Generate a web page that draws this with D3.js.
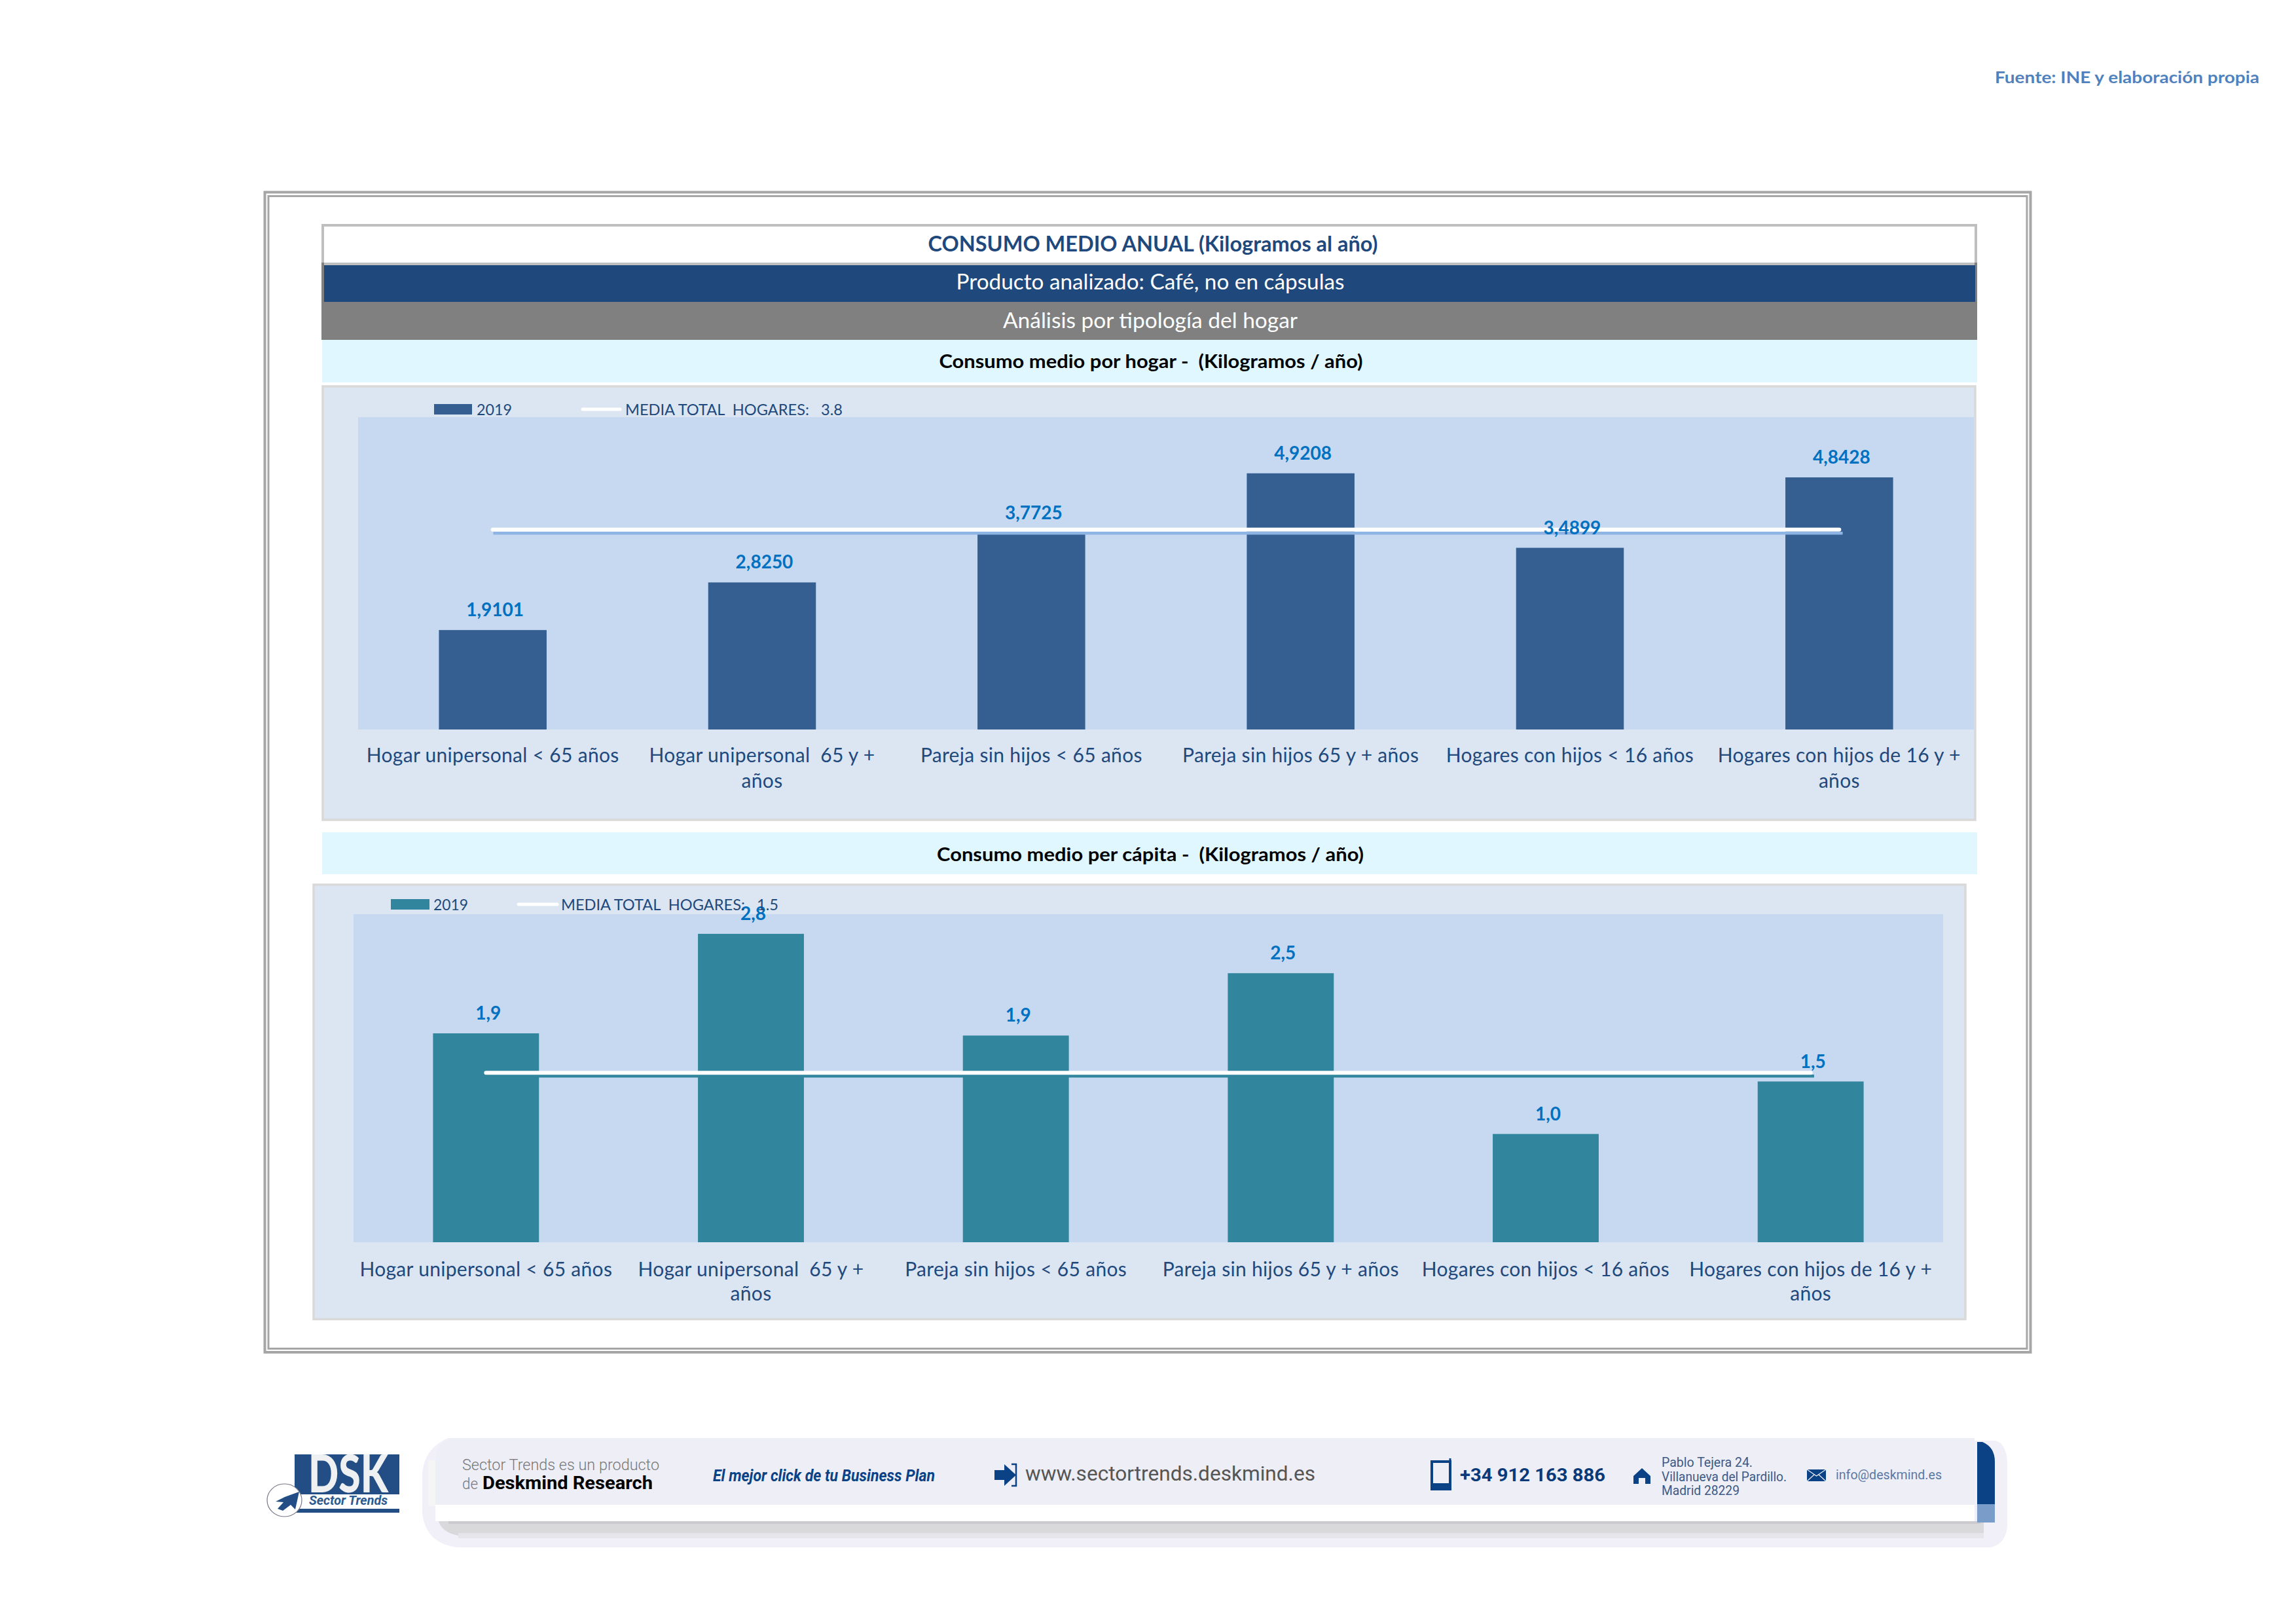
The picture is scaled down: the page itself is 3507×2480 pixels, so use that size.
<!DOCTYPE html>
<html lang="es">
<head>
<meta charset="utf-8">
<title>Consumo medio anual de café</title>
<script src="https://d3js.org/d3.v7.min.js"></script>
<style>
html,body{margin:0;padding:0;background:#fff}
svg{display:block}
text{font-family:Lato,"Noto Sans",sans-serif;white-space:pre}
</style>
</head>
<body>
<div id="chart"></div>
<script>
// ---- data ----
const categories = ["Hogar unipersonal < 65 años","Hogar unipersonal  65 y + años","Pareja sin hijos < 65 años","Pareja sin hijos 65 y + años","Hogares con hijos < 16 años","Hogares con hijos de 16 y + años"];
const seriesName = "2019";
const hogarValues = [1.9101,2.8250,3.7725,4.9208,3.4899,4.8428];
const hogarMedia = [3.84,3.84,3.84,3.84,3.84,3.84];
const hogarMediaShadow = [3.77,3.77,3.77,3.77,3.77,3.77];
const capitaValues = [1.91,2.82,1.89,2.46,0.99,1.47];
const capitaMedia = [1.55,1.55,1.55,1.55,1.55,1.55];
const capitaMediaShadow = [1.52,1.52,1.52,1.52,1.52,1.52];
const legendMediaHogar = "MEDIA TOTAL  HOGARES:   3.8";
const legendMediaCapita = "MEDIA TOTAL  HOGARES:   1.5";
const titleMain = "CONSUMO MEDIO ANUAL (Kilogramos al año)";
const titleProduct = "Producto analizado: Café, no en cápsulas";
const titleAnalysis = "Análisis por tipología del hogar";
const titleHogar = "Consumo medio por hogar -  (Kilogramos / año)";
const titleCapita = "Consumo medio per cápita -  (Kilogramos / año)";
const sourceText = "Fuente: INE y elaboración propia";

const W = 3507, H = 2480;
const svg = d3.select("#chart").append("svg").attr("width",W).attr("height",H).attr("viewBox",`0 0 ${W} ${H}`);
svg.append("rect").attr("width",W).attr("height",H).attr("fill","#fff");

function label(g,t,x,y,o={}){
  const e = g.append("text").attr("x",x).attr("y",y).text(t)
    .attr("fill",o.fill||"#000").attr("font-size",o.size||28)
    .attr("font-weight",o.weight||400).attr("text-anchor",o.anchor||"start");
  if(o.family) e.style("font-family",o.family);
  if(o.style) e.attr("font-style",o.style);
  if(o.len) e.attr("textLength",o.len).attr("lengthAdjust","spacingAndGlyphs");
  return e;
}
function box(x,y,w,h,fill,stroke,sw){
  return svg.append("rect").attr("x",x).attr("y",y).attr("width",w).attr("height",h)
    .attr("fill",fill||"none").attr("stroke",stroke||"none").attr("stroke-width",sw||0);
}

// source
label(svg,sourceText,3047,127,{fill:"#4f81bd",size:25,weight:700,len:404});

// double frame
box(404.5,293.5,2697,1771.5,"none","#a6a6a6",4);
box(410,299.5,2686,1760,"none","#a6a6a6",3);

// heading bands
box(493,344,2525,59,"#fff","#bfbfbf",4);
box(491,401,4,60,"#808080");
box(3016,401,4,60,"#808080");
box(495,405,2522,56,"#1f497d");
box(491,461,2529,58,"#808080");
box(492,519,2528,65,"#e0f7ff");
box(492,1271,2528,64,"#e0f7ff");
label(svg,titleMain,1761,384,{anchor:"middle",fill:"#1f497d",size:32,weight:700,len:687});
label(svg,titleProduct,1757,442,{anchor:"middle",fill:"#fff",size:32,len:593});
label(svg,titleAnalysis,1757,501,{anchor:"middle",fill:"#fff",size:32,len:450});
label(svg,titleHogar,1758,562,{anchor:"middle",fill:"#000",size:29,weight:700,len:647});
label(svg,titleCapita,1757,1315,{anchor:"middle",fill:"#000",size:29,weight:700,len:652});

function wrap(sel,width,lh){
  sel.each(function(){
    const t = d3.select(this), s = t.text();
    const words = s.split(" ");
    t.text(null);
    let line = "";
    let ts = t.append("tspan").attr("x",0).attr("dy",0);
    words.forEach(w=>{
      const cand = line===""? w : line+" "+w;
      ts.text(cand);
      if(ts.node().getComputedTextLength()>width && line!==""){
        ts.text(line);
        ts = t.append("tspan").attr("x",0).attr("dy",lh).text(w);
        line = w;
      } else line = cand;
    });
  });
}

function chart(c){
  // panel and plot area
  box(c.panel[0],c.panel[1],c.panel[2]-c.panel[0],c.panel[3]-c.panel[1],"#dce6f2","#d9d9d9",3.5);
  box(c.plot[0],c.plot[1],c.plot[2]-c.plot[0],c.plot[3]-c.plot[1],"#c6d9f1");
  const x = d3.scaleBand().domain(categories).range([c.plot[0],c.plot[2]]).paddingInner(0.6).paddingOuter(0.3);
  const y = d3.scaleLinear().domain([0,c.max]).range([c.plot[3],c.plot[1]]);
  const g = svg.append("g");
  g.selectAll("rect.bar").data(c.values).join("rect").attr("class","bar")
    .attr("x",(d,i)=>x(categories[i])).attr("width",x.bandwidth())
    .attr("y",d=>y(d)).attr("height",d=>y(0)-y(d)).attr("fill",c.color);
  const line = d3.line().x((d,i)=>x(categories[i])+x.bandwidth()/2).y(d=>y(d));
  g.append("path").attr("d",line(c.shadow)).attr("fill","none").attr("stroke",c.shadowColor)
    .attr("stroke-width",4.5).attr("stroke-linecap","square").attr("transform","translate(3,0)");
  g.append("path").attr("d",line(c.media)).attr("fill","none").attr("stroke","#fff")
    .attr("stroke-width",6).attr("stroke-linecap","round");
  g.selectAll("text.val").data(c.values).join("text").attr("class","val")
    .attr("x",(d,i)=>x(categories[i])+x.bandwidth()/2+3.5).attr("y",d=>y(d)-21)
    .attr("text-anchor","middle").attr("fill","#0070c0").attr("font-size",28).attr("font-weight",700)
    .text(c.fmt);
  // category axis
  const ax = svg.append("g").attr("transform",`translate(0,${c.plot[3]})`)
    .call(d3.axisBottom(x).tickSize(0).tickPadding(c.tickPad));
  ax.select(".domain").remove();
  ax.selectAll("text").attr("fill","#1f497d").attr("font-size",c.tickSize)
    .style("font-family","Lato,sans-serif").style("letter-spacing","0.3px").attr("dy",0).call(wrap,x.step(),c.lh);
  ax.selectAll(".tick text").attr("y",c.tickBase);
  // legend
  const L = c.legend;
  box(L.sw[0],L.sw[1],L.sw[2],L.sw[3],c.color);
  label(svg,seriesName,L.t1,L.base,{fill:"#1f497d",size:24,len:L.t1w});
  svg.append("line").attr("x1",L.ln[0]).attr("x2",L.ln[1]).attr("y1",L.ln[2]).attr("y2",L.ln[2])
    .attr("stroke","#fff").attr("stroke-width",5).attr("stroke-linecap","round");
  label(svg,c.legendText,L.t2,L.base,{fill:"#1f497d",size:24,len:L.t2w});
}

const f4 = d=>d3.format(".4f")(d).replace(".",",");
const f1 = d=>d3.format(".1f")(d).replace(".",",");

chart({panel:[493,590,3017,1252],plot:[547,637,3015,1114],max:6,values:hogarValues,media:hogarMedia,shadow:hogarMediaShadow,
  color:"#355f91",shadowColor:"#8eb4e3",fmt:f4,tickSize:30,tickPad:0,tickBase:50,lh:39,legendText:legendMediaHogar,
  legend:{sw:[663,617,58,16],t1:728,t1w:54,base:634,ln:[890,947,625],t2:955,t2w:332}});
chart({panel:[479,1351,3002,2014.5],plot:[540,1396,2968,1897],max:3,values:capitaValues,media:capitaMedia,shadow:capitaMediaShadow,
  color:"#31859c",shadowColor:"#31859c",fmt:f1,tickSize:30,tickPad:0,tickBase:52,lh:37,legendText:legendMediaCapita,
  legend:{sw:[597,1373,59,16],t1:662,t1w:53,base:1390,ln:[792,851,1381],t2:857,t2w:332}});

// ---- footer ----
const R = "Roboto,sans-serif";
svg.append("path").attr("d","M684 2196H3016V2200H3048Q3064 2204 3066 2232V2330Q3064 2358 3040 2363H700Q650 2358 645 2310V2250Q648 2212 684 2196Z").attr("fill","#f1eff8");
box(654,2230,11,70,"#f5f5f6");
svg.append("path").attr("d","M690 2196H3016V2298H665V2222Q668 2204 690 2196Z").attr("fill","#eeeef6");
box(665,2298,2351,25,"#fff");
svg.append("path").attr("d","M670 2323H3030V2345H700Q675 2340 670 2323Z").attr("fill","#d9d9db");
box(685,2323,2340,4,"#cbcbcf");
box(700,2341,2330,8,"#e6e6ea");
svg.append("path").attr("d","M3020 2202h8q19 8 19 30v65h-27z").attr("fill","#0a4285");
box(3020,2297,27,28,"#7a9cc8");

label(svg,"Sector Trends es un producto",706,2245,{family:R,fill:"#777",size:24,weight:300,len:301});
label(svg,"de",706,2274,{family:R,fill:"#777",size:24,weight:300,len:24});
label(svg,"Deskmind Research",737,2274,{family:R,fill:"#000",size:27,weight:700,len:260});
label(svg,"El mejor click de tu Business Plan",1089,2262,{family:R,fill:"#0a4285",size:25,weight:700,style:"italic",len:339});
label(svg,"www.sectortrends.deskmind.es",1566,2261,{family:R,fill:"#555",size:32,len:443});
label(svg,"+34 912 163 886",2230,2262,{family:R,fill:"#0a3a7a",size:28,weight:700,len:222});
label(svg,"Pablo Tejera 24.",2538,2240,{family:R,fill:"#3d5a85",size:20,len:139});
label(svg,"Villanueva del Pardillo.",2538,2262,{family:R,fill:"#3d5a85",size:20,len:191});
label(svg,"Madrid 28229",2538,2283,{family:R,fill:"#3d5a85",size:20,len:119});
label(svg,"info@deskmind.es",2804,2259,{family:R,fill:"#5a7aa5",size:20,len:162});

// footer icons
svg.append("path").attr("d","M1519 2245h15v-9l18 16.500-18 16.500v-9h-15z").attr("fill","#0a4285");
svg.append("path").attr("d","M1545 2236h7v33h-7").attr("fill","none").attr("stroke","#0a4285").attr("stroke-width",2.5);
svg.append("rect").attr("x",2187).attr("y",2232).attr("width",28).attr("height",42).attr("fill","#eeeef6").attr("stroke","#0a4285").attr("stroke-width",4);
svg.append("rect").attr("x",2186).attr("y",2265).attr("width",30).attr("height",10).attr("fill","#0a4285");
svg.append("line").attr("x1",2215).attr("x2",2215).attr("y1",2227).attr("y2",2232).attr("stroke","#0a4285").attr("stroke-width",3);
svg.append("path").attr("d","M2508 2242l13 12v12h-8v-9h-10v9h-8v-12z").attr("fill","#0a4285");
svg.append("rect").attr("x",2760).attr("y",2244).attr("width",29).attr("height",18).attr("fill","#0a4285");
svg.append("path").attr("d","M2760 2244l14.500 10 14.500-10M2760 2262l11-10M2789 2262l-11-10").attr("fill","none").attr("stroke","#eeeef6").attr("stroke-width",1.2);

// DSK logo
box(450,2221,160,61,"#224e85");
label(svg,"DSK",532,2279,{anchor:"middle",fill:"#eef0f2",size:80,weight:900,len:122});
label(svg,"Sector Trends",532,2298,{anchor:"middle",family:R,fill:"#2a5a90",size:20,weight:700,style:"italic",len:120});
box(450,2304,160,6,"#224e85");
svg.append("ellipse").attr("cx",434.500).attr("cy",2291).attr("rx",26.500).attr("ry",25).attr("fill","#fff").attr("stroke","#778",).attr("stroke-width",1.2);
svg.append("path").attr("d","M457 2278l-6 27-7-7-12 9-8-3 9-10-12-1 14-7z").attr("fill","#224e85");
</script>
</body>
</html>
